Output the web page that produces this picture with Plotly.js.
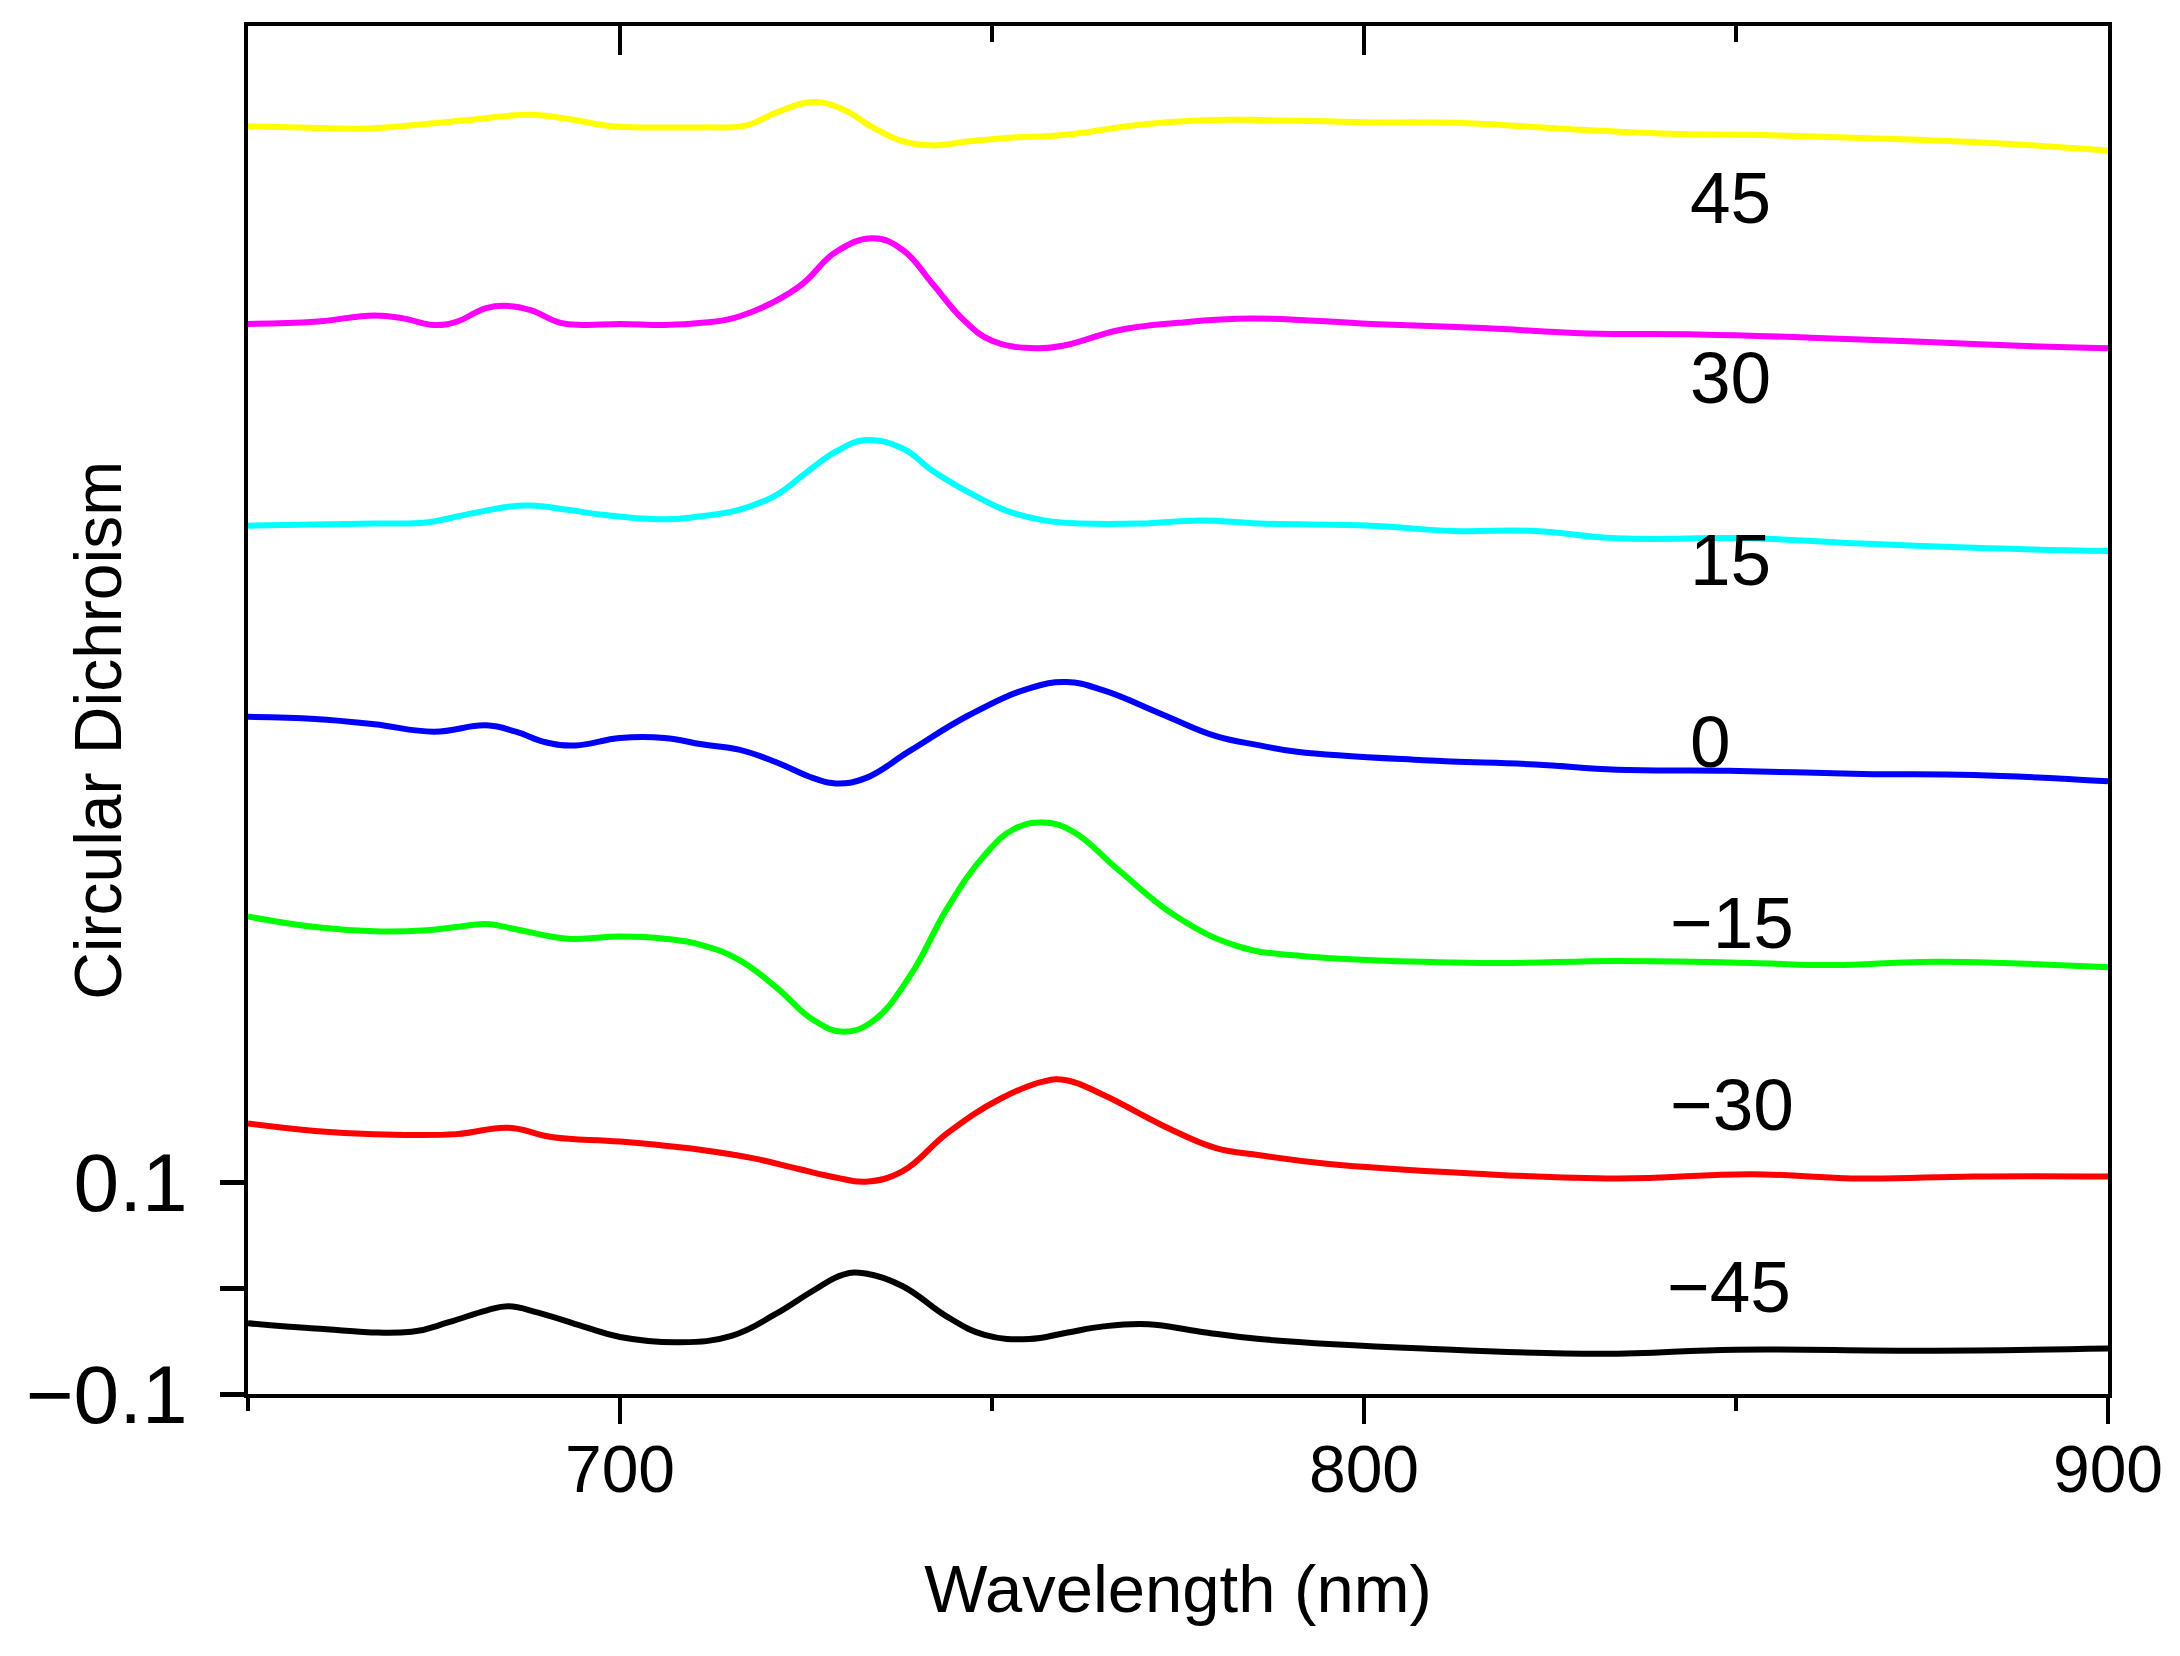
<!DOCTYPE html>
<html>
<head>
<meta charset="utf-8">
<script src="https://cdn.plot.ly/plotly-3.0.1.min.js"></script>
<style>
  html, body { margin: 0; padding: 0; background: #fff; }
  #chart { width: 2180px; height: 1656px; }
</style>
</head>
<body>
<div id="chart"></div>
<script>
// CD spectra, one trace per angle (stacked offsets included)
const wl45 = [650, 657, 666, 675, 681, 688, 693, 699, 705, 711, 717, 721, 726, 730, 734, 738, 742, 747, 752, 760, 767, 772, 780, 786, 800, 814, 826, 841, 852, 867, 885, 900];
const cd45 = [1.100, 1.099, 1.098, 1.103, 1.107, 1.111, 1.107, 1.100, 1.099, 1.099, 1.101, 1.113, 1.123, 1.116, 1.099, 1.086, 1.082, 1.086, 1.089, 1.092, 1.099, 1.103, 1.106, 1.106, 1.104, 1.103, 1.098, 1.093, 1.092, 1.089, 1.084, 1.077];

const wl30 = [650, 659, 667, 671, 675, 678, 682, 685, 688, 692, 695, 700, 706, 711, 716, 724, 729, 734, 738, 742, 746, 750, 756, 760, 767, 775, 785, 801, 816, 830, 845, 860, 875, 889, 900];
const cd30 = [0.913, 0.915, 0.921, 0.918, 0.912, 0.915, 0.928, 0.930, 0.926, 0.914, 0.912, 0.913, 0.912, 0.914, 0.920, 0.948, 0.981, 0.994, 0.983, 0.951, 0.918, 0.897, 0.890, 0.893, 0.907, 0.914, 0.918, 0.913, 0.909, 0.904, 0.903, 0.900, 0.896, 0.892, 0.890];

const wl15 = [650, 659, 667, 674, 679, 685, 688, 693, 698, 706, 711, 716, 721, 725, 729, 733, 738, 742, 747, 752, 757, 762, 770, 778, 786, 801, 812, 823, 834, 852, 867, 882, 900];
const cd15 = [0.722, 0.723, 0.724, 0.725, 0.732, 0.740, 0.741, 0.737, 0.732, 0.728, 0.731, 0.737, 0.751, 0.772, 0.792, 0.803, 0.795, 0.774, 0.753, 0.736, 0.727, 0.724, 0.724, 0.727, 0.724, 0.722, 0.717, 0.717, 0.710, 0.710, 0.705, 0.701, 0.698];

const wl0 = [650, 659, 667, 675, 682, 686, 690, 694, 700, 706, 711, 716, 721, 726, 729, 733, 739, 747, 755, 760, 765, 773, 780, 786, 791, 808, 823, 834, 849, 867, 882, 900];
const cd0 = [0.541, 0.539, 0.534, 0.527, 0.533, 0.527, 0.517, 0.514, 0.521, 0.521, 0.515, 0.510, 0.498, 0.483, 0.478, 0.483, 0.509, 0.543, 0.568, 0.574, 0.566, 0.543, 0.523, 0.514, 0.508, 0.500, 0.496, 0.491, 0.490, 0.487, 0.486, 0.480];

const wlm15 = [650, 659, 667, 674, 678, 682, 686, 693, 700, 706, 711, 716, 721, 726, 730, 734, 739, 744, 749, 753, 757, 761, 767, 775, 783, 791, 816, 834, 852, 863, 875, 886, 900];
const cdm15 = [0.352, 0.342, 0.338, 0.339, 0.342, 0.345, 0.340, 0.331, 0.333, 0.331, 0.325, 0.311, 0.285, 0.254, 0.243, 0.253, 0.296, 0.360, 0.410, 0.435, 0.441, 0.432, 0.396, 0.351, 0.324, 0.315, 0.308, 0.310, 0.308, 0.306, 0.309, 0.308, 0.304];

const wlm30 = [650, 659, 667, 678, 685, 691, 700, 711, 718, 724, 729, 733, 738, 744, 751, 757, 760, 765, 773, 780, 786, 795, 814, 834, 852, 867, 882, 900];
const cdm30 = [0.156, 0.149, 0.146, 0.146, 0.152, 0.143, 0.139, 0.131, 0.123, 0.113, 0.105, 0.101, 0.111, 0.147, 0.179, 0.196, 0.197, 0.183, 0.154, 0.133, 0.126, 0.118, 0.109, 0.104, 0.108, 0.104, 0.106, 0.106];

const wlm45 = [650, 659, 672, 677, 682, 685, 689, 695, 700, 708, 715, 721, 726, 730, 733, 738, 744, 749, 755, 760, 765, 771, 778, 786, 808, 832, 850, 875, 900];
const cdm45 = [-0.033, -0.038, -0.041, -0.032, -0.021, -0.017, -0.023, -0.036, -0.046, -0.051, -0.045, -0.024, -0.002, 0.013, 0.014, 0.002, -0.027, -0.044, -0.048, -0.042, -0.036, -0.034, -0.041, -0.048, -0.057, -0.062, -0.058, -0.059, -0.057];

const series = [
  {x: wl45, y: cd45, color: '#FFFF00', label: '45', lx: 843.5, ly: 1.033},
  {x: wl30, y: cd30, color: '#FF00FF', label: '30', lx: 843.5, ly: 0.862},
  {x: wl15, y: cd15, color: '#00FFFF', label: '15', lx: 843.5, ly: 0.690},
  {x: wl0, y: cd0, color: '#0000FF', label: '0', lx: 843.5, ly: 0.518},
  {x: wlm15, y: cdm15, color: '#00FF00', label: '\u221215', lx: 840.9, ly: 0.346},
  {x: wlm30, y: cdm30, color: '#FF0000', label: '\u221230', lx: 840.9, ly: 0.174},
  {x: wlm45, y: cdm45, color: '#000000', label: '\u221245', lx: 840.5, ly: 0.002}
];

const font = 'Liberation Sans, Arial, sans-serif';

const traces = series.map(s => ({
  x: s.x,
  y: s.y,
  type: 'scatter',
  mode: 'lines',
  line: {color: s.color, width: 6, shape: 'spline', smoothing: 1.2},
  showlegend: false,
  hoverinfo: 'skip'
}));

// empty trace so the top (mirrored, inward-tick) axis gets drawn
traces.push({x: [], y: [], xaxis: 'x2', yaxis: 'y', showlegend: false, hoverinfo: 'skip'});

const annotations = series.map(s => ({
  x: s.lx, y: s.ly, xref: 'x', yref: 'y',
  text: s.label, showarrow: false,
  xanchor: 'left', yanchor: 'middle',
  font: {family: font, size: 73, color: '#000'}
}));

annotations.push({
  xref: 'paper', yref: 'paper', x: -0.081, y: 0.485,
  text: 'Circular Dichroism', textangle: -90, showarrow: false,
  xanchor: 'center', yanchor: 'middle',
  font: {family: font, size: 66, color: '#000'}
});

const layout = {
  width: 2180,
  height: 1656,
  margin: {l: 248, r: 72, t: 26, b: 262},
  paper_bgcolor: '#fff',
  plot_bgcolor: '#fff',
  showlegend: false,
  xaxis: {
    range: [650, 900],
    tick0: 700, dtick: 100,
    ticks: 'outside', ticklen: 26, tickwidth: 4, tickcolor: '#000',
    minor: {tick0: 650, dtick: 50, ticks: 'outside', ticklen: 13, tickwidth: 4, tickcolor: '#000', showgrid: false},
    showline: true, linewidth: 4, linecolor: '#000', mirror: true,
    showgrid: false, zeroline: false,
    ticklabelstandoff: -11,
    tickfont: {family: font, size: 66, color: '#000'},
    title: {text: 'Wavelength (nm)', standoff: 61, font: {family: font, size: 67, color: '#000'}}
  },
  xaxis2: {
    overlaying: 'x', side: 'top', anchor: 'y',
    range: [650, 900],
    tick0: 700, dtick: 100,
    ticks: 'inside', ticklen: 29, tickwidth: 4, tickcolor: '#000',
    minor: {tick0: 650, dtick: 50, ticks: 'inside', ticklen: 16, tickwidth: 4, tickcolor: '#000', showgrid: false},
    showticklabels: false, showline: false, showgrid: false, zeroline: false
  },
  yaxis: {
    range: [-0.1, 1.195],
    tickvals: [-0.1, 0, 0.1],
    ticktext: ['\u22120.1', '', '0.1'],
    ticks: 'outside', ticklen: 24, tickwidth: 5, tickcolor: '#000',
    showline: true, linewidth: 4, linecolor: '#000', mirror: true,
    showgrid: false, zeroline: false,
    ticklabelstandoff: 16,
    tickfont: {family: font, size: 82, color: '#000'}
  },
  annotations: annotations
};

Plotly.newPlot('chart', traces, layout, {displayModeBar: false, staticPlot: true});
</script>
</body>
</html>
